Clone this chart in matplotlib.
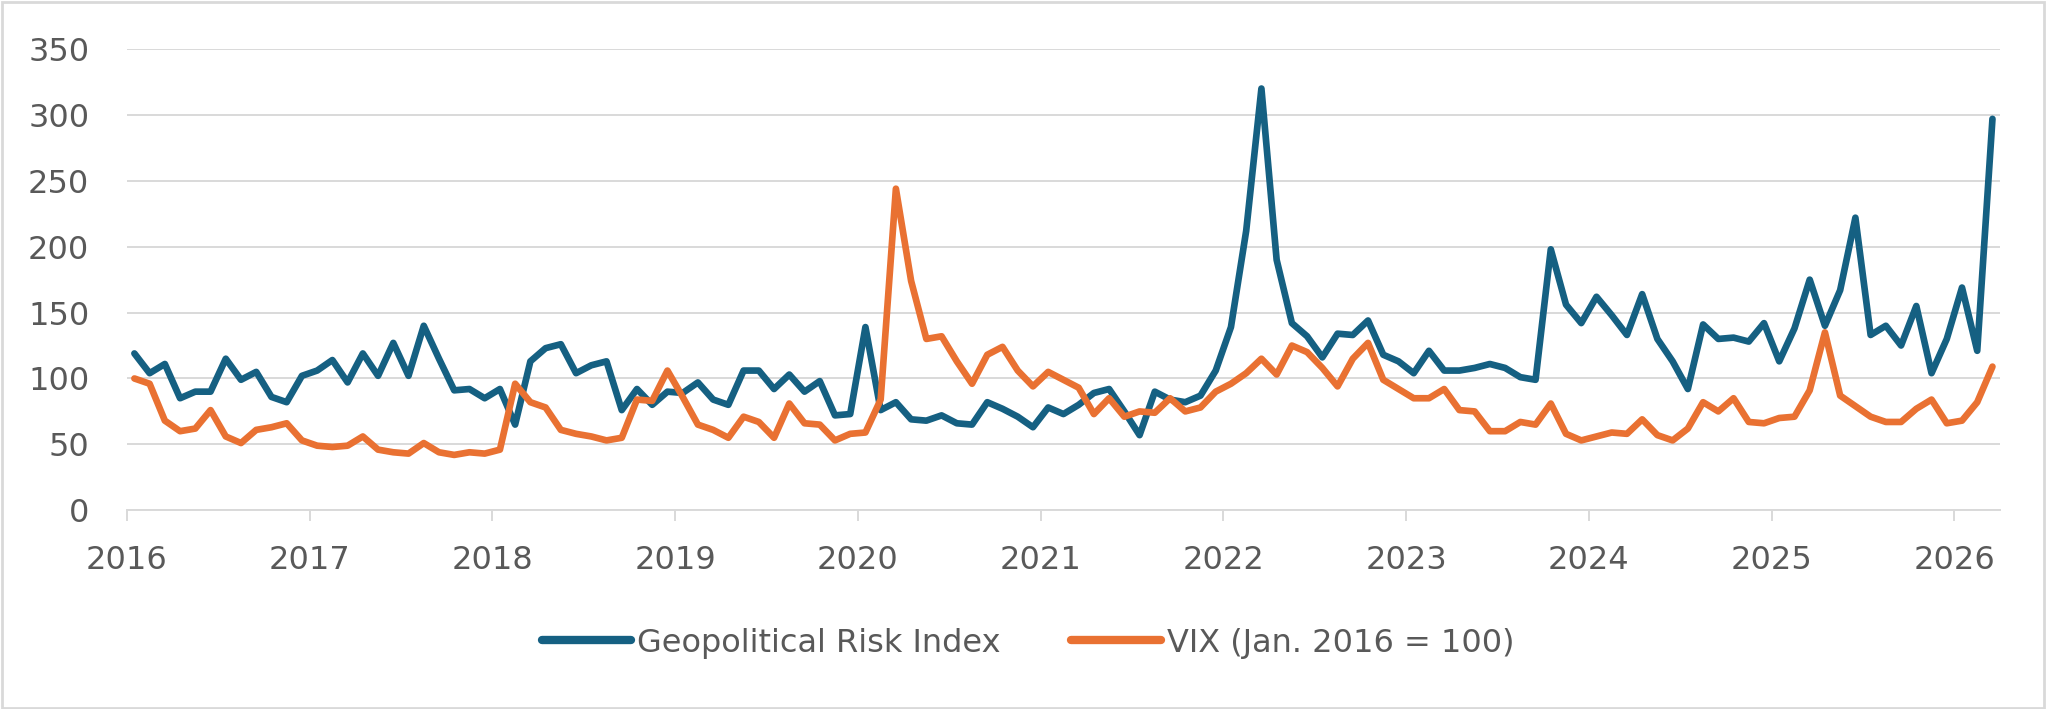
import numpy as np
import matplotlib
matplotlib.use("Agg")
import matplotlib.pyplot as plt
from matplotlib.patches import Rectangle

# monthly values, Jan 2016 - Mar 2026
gpr = [119, 104, 111, 85, 90, 90, 115, 99, 105, 86, 82, 102,
       106, 114, 97, 119, 102, 127, 102, 140, 115, 91, 92, 85,
       92, 65, 113, 123, 126, 104, 110, 113, 76, 92, 80, 90,
       89, 97, 84, 80, 106, 106, 92, 103, 90, 98, 72, 73,
       139, 76, 82, 69, 68, 72, 66, 65, 82, 77, 71, 63,
       78, 73, 80, 89, 92, 75, 57, 90, 84, 82, 87, 106,
       139, 212, 320, 190, 142, 132, 116, 134, 133, 144, 118, 113,
       104, 121, 106, 106, 108, 111, 108, 101, 99, 198, 156, 142,
       162, 148, 133, 164, 130, 113, 92, 141, 130, 131, 128, 142,
       113, 138, 175, 140, 167, 222, 133, 140, 125, 155, 104, 130,
       169, 121, 297]

vix = [100, 96, 68, 60, 62, 76, 56, 51, 61, 63, 66, 53,
       49, 48, 49, 56, 46, 44, 43, 51, 44, 42, 44, 43,
       46, 96, 82, 78, 61, 58, 56, 53, 55, 84, 83, 106,
       86, 65, 61, 55, 71, 67, 55, 81, 66, 65, 53, 58,
       59, 84, 244, 174, 130, 132, 113, 96, 118, 124, 106, 94,
       105, 99, 93, 73, 85, 71, 75, 74, 85, 75, 78, 90,
       96, 104, 115, 103, 125, 120, 108, 94, 115, 127, 99, 92,
       85, 85, 92, 76, 75, 60, 60, 67, 65, 81, 58, 53,
       56, 59, 58, 69, 57, 53, 62, 82, 75, 85, 67, 66,
       70, 71, 91, 135, 87, 79, 71, 67, 67, 77, 84, 66,
       68, 82, 109]

years = list(range(2016, 2027))

blue = '#156082'
orange = '#E97132'
grid = '#D9D9D9'
txt = '#595959'

x = np.arange(len(gpr)) + 0.5

fig = plt.figure(figsize=(20.48, 7.09), dpi=100)
ax = fig.add_axes([0.0619, 0.2803, 0.9147, 0.6506])

ax.plot(x, gpr, color=blue, lw=4.8, solid_joinstyle='round', solid_capstyle='round',
        label='Geopolitical Risk Index', zorder=3)
ax.plot(x, vix, color=orange, lw=4.8, solid_joinstyle='round', solid_capstyle='round',
        label='VIX (Jan. 2016 = 100)', zorder=3)

ax.set_xlim(0, len(gpr))
ax.set_ylim(0, 350)
ax.set_yticks(range(0, 351, 50))
ax.set_xticks([12 * i for i in range(len(years))])
ax.set_xticklabels([str(y) for y in years])

ax.grid(axis='y', color=grid, lw=1.4, zorder=0)
for s in ['top', 'right', 'left']:
    ax.spines[s].set_visible(False)
ax.spines['bottom'].set_color(grid)
ax.spines['bottom'].set_linewidth(1.4)

ax.tick_params(axis='y', length=0, pad=27, labelsize=23, labelcolor=txt)
ax.tick_params(axis='x', length=8, width=1.4, color=grid, pad=17, labelsize=23, labelcolor=txt)

leg = fig.legend(loc='center', bbox_to_anchor=(0.502, 0.093), ncol=2, frameon=False,
                 fontsize=23, handlelength=2.8, handletextpad=0.2, columnspacing=2.2)
for t in leg.get_texts():
    t.set_color(txt)
for h in leg.legend_handles:
    h.set_linewidth(6)

# chart area border
fig.patches.append(Rectangle((0.001, 0.002), 0.997, 0.995, transform=fig.transFigure,
                             fill=False, edgecolor=grid, lw=2))

fig.savefig('out.png', dpi=100)
